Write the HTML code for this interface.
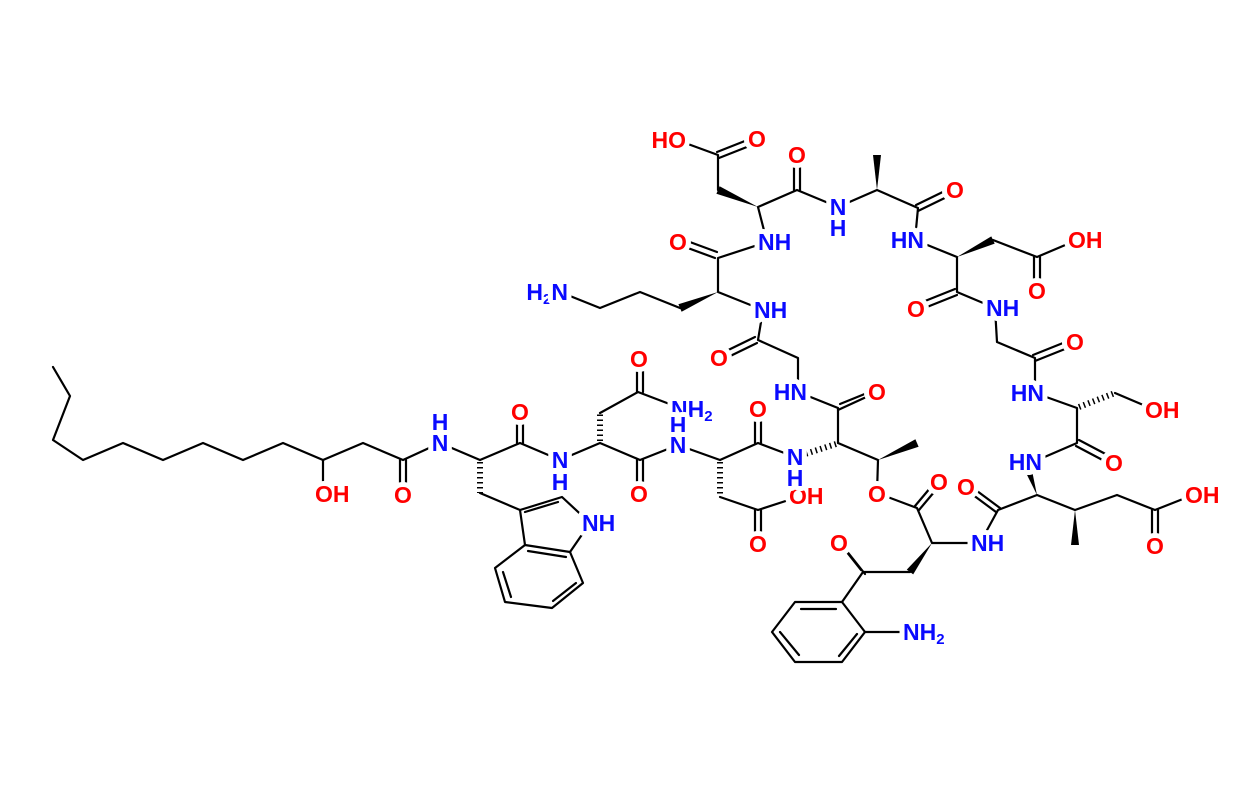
<!DOCTYPE html>
<html><head><meta charset="utf-8"><style>
html,body{margin:0;padding:0;background:#fff;}
svg{display:block;}
text{font-family:"Liberation Sans",Arial,sans-serif;font-size:23px;font-weight:bold;dominant-baseline:central;paint-order:stroke;stroke:#fff;stroke-width:10px;stroke-linejoin:round;}
.n{fill:#0a0aff;}
.o{fill:#ff0000;}
.s{font-size:15px;stroke-width:0;}
</style></head><body>
<svg width="1243" height="794" viewBox="0 0 1243 794" xmlns="http://www.w3.org/2000/svg">
<g stroke="#000" stroke-width="2.2" fill="none" stroke-linecap="round" stroke-linejoin="round">
<polyline points="53,367 70,396 53,440 83,460 123,443 163,460 203,443 243,460 283,443 323,460 363,443 403,460 440,443 480,460 520,443 560,460 600,443 640,460 678,445 720,460 758,443 795,457"/>
<line x1="323" y1="460" x2="323" y2="493"/>
<line x1="400" y1="460" x2="400" y2="493"/><line x1="406" y1="460" x2="406" y2="493"/>
<line x1="517" y1="443" x2="517" y2="413"/><line x1="523" y1="443" x2="523" y2="413"/>
<line x1="637" y1="392" x2="637" y2="360"/><line x1="643" y1="392" x2="643" y2="360"/>
<line x1="637" y1="460" x2="637" y2="493"/><line x1="643" y1="460" x2="643" y2="493"/>
<line x1="755" y1="510" x2="755" y2="543"/><line x1="761" y1="510" x2="761" y2="543"/>
<line x1="755" y1="443" x2="755" y2="410"/><line x1="761" y1="443" x2="761" y2="410"/>
<polyline points="480,493 520,510"/>
<polyline points="520,510 562,497 590,523 570,552 525,545 520,510"/>
<line x1="525" y1="512" x2="558" y2="502"/>
<polyline points="525,545 495,568 505,602 552,608 583,583 570,552"/>
<line x1="528" y1="551" x2="566" y2="557"/>
<line x1="503" y1="572" x2="511" y2="597"/>
<line x1="553" y1="601" x2="576" y2="583"/>
<polyline points="600,413 638,392 680,408"/>
<polyline points="720,497 758,510 798,497"/>
<polyline points="838,443 838,408 798,392 798,358 758,340 763,310 718,292 718,258 767,242 758,207 797,190 838,207 877,190 918,208 915,240 957,257 957,292 995,308 997,342 1035,358 1035,393 1077,408 1077,443 1033,462"/>
<line x1="838" y1="410" x2="875" y2="393"/><line x1="840" y1="404" x2="877" y2="389"/>
<line x1="757" y1="343" x2="720" y2="361"/><line x1="755" y1="337" x2="718" y2="355"/>
<line x1="715" y1="258" x2="677" y2="244"/><line x1="717" y1="252" x2="679" y2="238"/>
<line x1="794" y1="190" x2="794" y2="155"/><line x1="800" y1="190" x2="800" y2="155"/>
<line x1="918" y1="211" x2="955" y2="193"/><line x1="916" y1="205" x2="953" y2="187"/>
<line x1="957" y1="295" x2="917" y2="311"/><line x1="955" y1="289" x2="915" y2="305"/>
<line x1="1035" y1="361" x2="1075" y2="345"/><line x1="1033" y1="355" x2="1073" y2="339"/>
<line x1="1076" y1="446" x2="1112" y2="465"/><line x1="1079" y1="440" x2="1115" y2="459"/>
<line x1="1034" y1="257" x2="1034" y2="290"/><line x1="1040" y1="257" x2="1040" y2="290"/>
<polyline points="993,240 1037,257 1077,240"/>
<polyline points="718,190 718,155 677,140"/>
<line x1="719" y1="158" x2="757" y2="143"/><line x1="717" y1="152" x2="755" y2="137"/>
<polyline points="680,308 640,292 600,308 560,292"/>
<polyline points="1115,393 1155,410"/>
<polyline points="838,443 878,460 877,493 917,508 932,543 980,543 998,510 1037,495 1075,510 1117,495 1155,510 1193,495"/>
<line x1="915" y1="506" x2="936" y2="481"/><line x1="919" y1="510" x2="940" y2="485"/>
<line x1="996" y1="512" x2="965" y2="489"/><line x1="1000" y1="508" x2="969" y2="485"/>
<line x1="1152" y1="510" x2="1152" y2="545"/><line x1="1158" y1="510" x2="1158" y2="545"/>
<polyline points="910,572 863,572 842,602"/>
<line x1="865" y1="574" x2="842" y2="545"/><line x1="861" y1="570" x2="838" y2="541"/>
<polygon points="795,602 842,602 865,632 842,662 795,662 772,632"/>
<line x1="801" y1="609" x2="836" y2="609"/>
<line x1="857" y1="634" x2="839" y2="656"/>
<line x1="799" y1="655" x2="780" y2="632"/>
<line x1="865" y1="632" x2="912" y2="632"/>
</g>
<g fill="#000" stroke="none">
<polygon points="758,207 719.6,186.3 716.4,193.7"/>
<polygon points="718,292 681.6,311.7 678.4,304.3"/>
<polygon points="877,190 873,155 881,155"/>
<polygon points="957,257 994.7,243.6 991.3,236.4"/>
<polygon points="878,460 918.6,446.7 915.4,439.3"/>
<polygon points="932,543 913.2,574.4 906.8,569.6"/>
<polygon points="1037,495 1030.8,464.7 1023.2,467.3"/>
<polygon points="1075,510 1071,545 1079,545"/>
</g>
<g stroke="#000" stroke-width="6" stroke-dasharray="1.5,3.5" fill="none">
<line x1="480" y1="462" x2="480" y2="493"/>
<line x1="600" y1="441" x2="600" y2="413"/>
<line x1="720" y1="462" x2="720" y2="497"/>
<line x1="836" y1="444" x2="805" y2="454"/>
<line x1="1079" y1="407" x2="1115" y2="393"/>
</g>
<text class="o" x="315" y="494">OH</text>
<text class="o" x="403" y="495" text-anchor="middle">O</text>
<text class="n" x="440" y="443" text-anchor="middle">N</text><text class="n" x="440" y="422" text-anchor="middle">H</text>
<text class="o" x="520" y="412" text-anchor="middle">O</text>
<text class="n" x="560" y="460" text-anchor="middle">N</text><text class="n" x="560" y="482" text-anchor="middle">H</text>
<text class="o" x="639" y="359" text-anchor="middle">O</text>
<text class="n" x="671" y="409">NH<tspan class="s" dy="7">2</tspan></text>
<text class="o" x="639" y="494" text-anchor="middle">O</text>
<text class="n" x="678" y="425" text-anchor="middle">H</text><text class="n" x="678" y="445" text-anchor="middle">N</text>
<text class="o" x="758" y="544" text-anchor="middle">O</text>
<text class="o" x="789" y="496">OH</text>
<text class="o" x="758" y="409" text-anchor="middle">O</text>
<text class="n" x="795" y="457" text-anchor="middle">N</text><text class="n" x="795" y="478" text-anchor="middle">H</text>
<text class="o" x="877" y="392" text-anchor="middle">O</text>
<text class="n" x="807" y="392" text-anchor="end">HN</text>
<text class="o" x="719" y="358" text-anchor="middle">O</text>
<text class="n" x="754" y="310">NH</text>
<text class="n" x="568" y="292" text-anchor="end">H<tspan class="s" dy="7">2</tspan><tspan dy="-7">N</tspan></text>
<text class="o" x="678" y="242" text-anchor="middle">O</text>
<text class="n" x="758" y="242">NH</text>
<text class="o" x="686" y="140" text-anchor="end">HO</text>
<text class="o" x="757" y="139" text-anchor="middle">O</text>
<text class="o" x="797" y="155" text-anchor="middle">O</text>
<text class="n" x="838" y="207" text-anchor="middle">N</text><text class="n" x="838" y="228" text-anchor="middle">H</text>
<text class="n" x="924" y="240" text-anchor="end">HN</text>
<text class="o" x="955" y="190" text-anchor="middle">O</text>
<text class="o" x="1068" y="240">OH</text>
<text class="o" x="1037" y="291" text-anchor="middle">O</text>
<text class="n" x="986" y="308">NH</text>
<text class="o" x="916" y="309" text-anchor="middle">O</text>
<text class="o" x="1075" y="342" text-anchor="middle">O</text>
<text class="n" x="1044" y="393" text-anchor="end">HN</text>
<text class="o" x="1145" y="410">OH</text>
<text class="o" x="1114" y="463" text-anchor="middle">O</text>
<text class="n" x="1042" y="462" text-anchor="end">HN</text>
<text class="o" x="966" y="487" text-anchor="middle">O</text>
<text class="n" x="971" y="543">NH</text>
<text class="o" x="1155" y="546" text-anchor="middle">O</text>
<text class="o" x="1185" y="495">OH</text>
<text class="o" x="939" y="482" text-anchor="middle">O</text>
<text class="o" x="877" y="494" text-anchor="middle">O</text>
<text class="o" x="839" y="543" text-anchor="middle">O</text>
<text class="n" x="903" y="632">NH<tspan class="s" dy="7">2</tspan></text>
<text class="n" x="582" y="523">NH</text>
</svg>
</body></html>
